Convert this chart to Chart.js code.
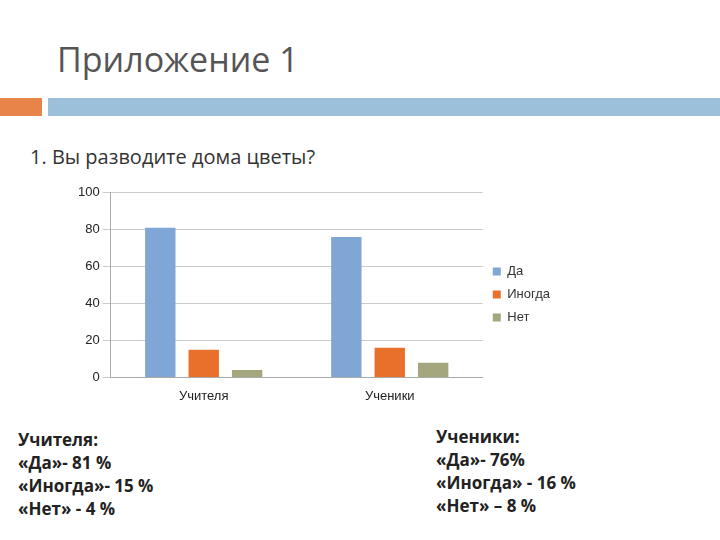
<!DOCTYPE html>
<html><head><meta charset="utf-8">
<script src="https://cdn.jsdelivr.net/npm/chart.js@4"></script>
<style>
body{margin:0;width:720px;height:540px;background:#fff;font-family:Calibri,"Liberation Sans","Open Sans",sans-serif;position:relative;overflow:hidden}
.t{position:absolute;white-space:nowrap}
</style></head><body>
<div class="t" style="left:57px;top:36px;font-size:34px;color:#555;font-family:'Open Sans'">Приложение 1</div>
<div style="position:absolute;left:0;top:98px;width:42px;height:18px;background:#e8834a"></div>
<div style="position:absolute;left:48px;top:98px;width:672px;height:18px;background:#9cc0da"></div>
<div class="t" style="left:30px;top:143px;font-size:20px;color:#333;font-family:'Open Sans'">1. Вы разводите дома цветы?</div>
<div style="position:absolute;left:75px;top:182px;width:505px;height:225px"><canvas id="c"></canvas></div>
<div class="t" style="left:18px;top:428px;font-size:17px;line-height:23px;font-weight:bold;color:#222;font-family:'Open Sans'">Учителя:<br>«Да»- 81 %<br>«Иногда»- 15 %<br>«Нет» - 4 %</div>
<div class="t" style="left:436px;top:425px;font-size:17px;line-height:23px;font-weight:bold;color:#222;font-family:'Open Sans'">Ученики:<br>«Да»- 76%<br>«Иногда» - 16 %<br>«Нет» – 8 %</div>
<script>
const categories=["Учителя","Ученики"];
const seriesNames=["Да","Иногда","Нет"];
const yes=[81,76];
const sometimes=[15,16];
const no=[4,8];
const colors=["#7fa6d4","#e8702a","#a4a77e"];
new Chart(document.getElementById('c'),{type:'bar',
data:{labels:categories,datasets:[
{label:seriesNames[0],data:yes,backgroundColor:colors[0]},
{label:seriesNames[1],data:sometimes,backgroundColor:colors[1]},
{label:seriesNames[2],data:no,backgroundColor:colors[2]}]},
options:{responsive:true,maintainAspectRatio:false,animation:false,
layout:{padding:{right:20}},
datasets:{bar:{barPercentage:0.7,categoryPercentage:0.7}},
plugins:{legend:{position:'right',labels:{boxWidth:8,boxHeight:8,font:{size:13,family:'Liberation Sans'},color:'#333'}},tooltip:{enabled:false}},
scales:{y:{min:0,max:100,ticks:{stepSize:20,font:{size:13,family:'Liberation Sans'},color:'#222'},grid:{color:'#ccc'},border:{color:'#aaa'}},
x:{ticks:{font:{size:13,family:'Liberation Sans'},color:'#222'},grid:{display:false},border:{color:'#aaa'}}}}});
</script></body></html>
